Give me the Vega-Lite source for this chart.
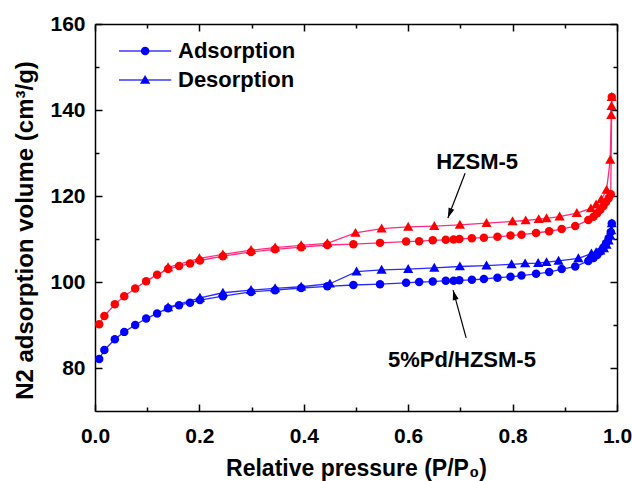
{
  "$schema": "https://vega.github.io/schema/vega-lite/v6.json",
  "width": 522,
  "height": 387,
  "autosize": "none",
  "padding": {"left": 95, "top": 24, "right": 15, "bottom": 70},
  "background": "white",
  "config": {
    "view": {"stroke": null},
    "font": "Liberation Sans",
    "axis": {
      "grid": false,
      "labelFont": "Liberation Sans",
      "labelFontWeight": "bold",
      "labelFontSize": 21,
      "labelColor": "black",
      "titleFont": "Liberation Sans",
      "titleFontWeight": "bold",
      "titleFontSize": 23,
      "titleColor": "black",
      "domainColor": "black",
      "domainWidth": 1.5,
      "tickColor": "black",
      "tickWidth": 1.5,
      "labelFlush": false,
      "labelOverlap": false,
      "labelBound": false
    }
  },
  "datasets": {
    "iso": [
      {"sample": "HZSM-5", "branch": "Adsorption", "p": 0.008, "v": 90.2},
      {"sample": "HZSM-5", "branch": "Adsorption", "p": 0.018, "v": 92.1},
      {"sample": "HZSM-5", "branch": "Adsorption", "p": 0.038, "v": 94.8},
      {"sample": "HZSM-5", "branch": "Adsorption", "p": 0.056, "v": 96.7},
      {"sample": "HZSM-5", "branch": "Adsorption", "p": 0.077, "v": 98.5},
      {"sample": "HZSM-5", "branch": "Adsorption", "p": 0.098, "v": 100.2},
      {"sample": "HZSM-5", "branch": "Adsorption", "p": 0.119, "v": 101.7},
      {"sample": "HZSM-5", "branch": "Adsorption", "p": 0.14, "v": 103.0},
      {"sample": "HZSM-5", "branch": "Adsorption", "p": 0.161, "v": 103.7},
      {"sample": "HZSM-5", "branch": "Adsorption", "p": 0.182, "v": 104.3},
      {"sample": "HZSM-5", "branch": "Adsorption", "p": 0.201, "v": 105.0},
      {"sample": "HZSM-5", "branch": "Adsorption", "p": 0.245, "v": 106.0},
      {"sample": "HZSM-5", "branch": "Adsorption", "p": 0.299, "v": 107.0},
      {"sample": "HZSM-5", "branch": "Adsorption", "p": 0.345, "v": 107.6},
      {"sample": "HZSM-5", "branch": "Adsorption", "p": 0.395, "v": 108.1},
      {"sample": "HZSM-5", "branch": "Adsorption", "p": 0.445, "v": 108.6},
      {"sample": "HZSM-5", "branch": "Adsorption", "p": 0.495, "v": 108.8},
      {"sample": "HZSM-5", "branch": "Adsorption", "p": 0.546, "v": 109.1},
      {"sample": "HZSM-5", "branch": "Adsorption", "p": 0.596, "v": 109.4},
      {"sample": "HZSM-5", "branch": "Adsorption", "p": 0.621, "v": 109.5},
      {"sample": "HZSM-5", "branch": "Adsorption", "p": 0.647, "v": 109.7},
      {"sample": "HZSM-5", "branch": "Adsorption", "p": 0.672, "v": 109.8},
      {"sample": "HZSM-5", "branch": "Adsorption", "p": 0.687, "v": 109.9},
      {"sample": "HZSM-5", "branch": "Adsorption", "p": 0.698, "v": 110.0},
      {"sample": "HZSM-5", "branch": "Adsorption", "p": 0.722, "v": 110.2},
      {"sample": "HZSM-5", "branch": "Adsorption", "p": 0.745, "v": 110.3},
      {"sample": "HZSM-5", "branch": "Adsorption", "p": 0.771, "v": 110.5},
      {"sample": "HZSM-5", "branch": "Adsorption", "p": 0.796, "v": 110.8},
      {"sample": "HZSM-5", "branch": "Adsorption", "p": 0.817, "v": 111.0},
      {"sample": "HZSM-5", "branch": "Adsorption", "p": 0.845, "v": 111.4},
      {"sample": "HZSM-5", "branch": "Adsorption", "p": 0.87, "v": 111.8},
      {"sample": "HZSM-5", "branch": "Adsorption", "p": 0.894, "v": 112.3},
      {"sample": "HZSM-5", "branch": "Adsorption", "p": 0.92, "v": 113.0},
      {"sample": "HZSM-5", "branch": "Adsorption", "p": 0.945, "v": 114.4},
      {"sample": "HZSM-5", "branch": "Adsorption", "p": 0.955, "v": 115.2},
      {"sample": "HZSM-5", "branch": "Adsorption", "p": 0.962, "v": 116.0},
      {"sample": "HZSM-5", "branch": "Adsorption", "p": 0.968, "v": 116.8},
      {"sample": "HZSM-5", "branch": "Adsorption", "p": 0.974, "v": 117.7},
      {"sample": "HZSM-5", "branch": "Adsorption", "p": 0.979, "v": 118.6},
      {"sample": "HZSM-5", "branch": "Adsorption", "p": 0.984, "v": 119.5},
      {"sample": "HZSM-5", "branch": "Adsorption", "p": 0.988, "v": 120.4},
      {"sample": "HZSM-5", "branch": "Adsorption", "p": 0.99, "v": 143.0},
      {"sample": "HZSM-5", "branch": "Desorption", "p": 0.99, "v": 143.0},
      {"sample": "HZSM-5", "branch": "Desorption", "p": 0.9895, "v": 140.9},
      {"sample": "HZSM-5", "branch": "Desorption", "p": 0.989, "v": 138.8},
      {"sample": "HZSM-5", "branch": "Desorption", "p": 0.987, "v": 128.4},
      {"sample": "HZSM-5", "branch": "Desorption", "p": 0.98, "v": 121.4},
      {"sample": "HZSM-5", "branch": "Desorption", "p": 0.97, "v": 119.2},
      {"sample": "HZSM-5", "branch": "Desorption", "p": 0.96, "v": 118.0},
      {"sample": "HZSM-5", "branch": "Desorption", "p": 0.95, "v": 117.1},
      {"sample": "HZSM-5", "branch": "Desorption", "p": 0.923, "v": 116.0},
      {"sample": "HZSM-5", "branch": "Desorption", "p": 0.89, "v": 115.2},
      {"sample": "HZSM-5", "branch": "Desorption", "p": 0.865, "v": 114.8},
      {"sample": "HZSM-5", "branch": "Desorption", "p": 0.85, "v": 114.6},
      {"sample": "HZSM-5", "branch": "Desorption", "p": 0.825, "v": 114.3},
      {"sample": "HZSM-5", "branch": "Desorption", "p": 0.8, "v": 114.1},
      {"sample": "HZSM-5", "branch": "Desorption", "p": 0.75, "v": 113.7},
      {"sample": "HZSM-5", "branch": "Desorption", "p": 0.699, "v": 113.3},
      {"sample": "HZSM-5", "branch": "Desorption", "p": 0.65, "v": 113.0},
      {"sample": "HZSM-5", "branch": "Desorption", "p": 0.6, "v": 112.8},
      {"sample": "HZSM-5", "branch": "Desorption", "p": 0.549, "v": 112.4},
      {"sample": "HZSM-5", "branch": "Desorption", "p": 0.499, "v": 111.4},
      {"sample": "HZSM-5", "branch": "Desorption", "p": 0.445, "v": 109.0},
      {"sample": "HZSM-5", "branch": "Desorption", "p": 0.395, "v": 108.5},
      {"sample": "HZSM-5", "branch": "Desorption", "p": 0.345, "v": 108.0},
      {"sample": "HZSM-5", "branch": "Desorption", "p": 0.299, "v": 107.4},
      {"sample": "HZSM-5", "branch": "Desorption", "p": 0.245, "v": 106.4},
      {"sample": "HZSM-5", "branch": "Desorption", "p": 0.2, "v": 105.5},
      {"sample": "HZSM-5", "branch": "Desorption", "p": 0.14, "v": 103.4},
      {"sample": "5%Pd/HZSM-5", "branch": "Adsorption", "p": 0.008, "v": 82.1},
      {"sample": "5%Pd/HZSM-5", "branch": "Adsorption", "p": 0.018, "v": 84.2},
      {"sample": "5%Pd/HZSM-5", "branch": "Adsorption", "p": 0.038, "v": 86.7},
      {"sample": "5%Pd/HZSM-5", "branch": "Adsorption", "p": 0.056, "v": 88.4},
      {"sample": "5%Pd/HZSM-5", "branch": "Adsorption", "p": 0.077, "v": 90.0},
      {"sample": "5%Pd/HZSM-5", "branch": "Adsorption", "p": 0.098, "v": 91.5},
      {"sample": "5%Pd/HZSM-5", "branch": "Adsorption", "p": 0.119, "v": 92.7},
      {"sample": "5%Pd/HZSM-5", "branch": "Adsorption", "p": 0.14, "v": 93.9},
      {"sample": "5%Pd/HZSM-5", "branch": "Adsorption", "p": 0.161, "v": 94.6},
      {"sample": "5%Pd/HZSM-5", "branch": "Adsorption", "p": 0.182, "v": 95.2},
      {"sample": "5%Pd/HZSM-5", "branch": "Adsorption", "p": 0.201, "v": 95.8},
      {"sample": "5%Pd/HZSM-5", "branch": "Adsorption", "p": 0.245, "v": 96.7},
      {"sample": "5%Pd/HZSM-5", "branch": "Adsorption", "p": 0.299, "v": 97.7},
      {"sample": "5%Pd/HZSM-5", "branch": "Adsorption", "p": 0.345, "v": 98.1},
      {"sample": "5%Pd/HZSM-5", "branch": "Adsorption", "p": 0.395, "v": 98.6},
      {"sample": "5%Pd/HZSM-5", "branch": "Adsorption", "p": 0.445, "v": 99.0},
      {"sample": "5%Pd/HZSM-5", "branch": "Adsorption", "p": 0.495, "v": 99.3},
      {"sample": "5%Pd/HZSM-5", "branch": "Adsorption", "p": 0.546, "v": 99.5},
      {"sample": "5%Pd/HZSM-5", "branch": "Adsorption", "p": 0.596, "v": 99.8},
      {"sample": "5%Pd/HZSM-5", "branch": "Adsorption", "p": 0.621, "v": 100.0},
      {"sample": "5%Pd/HZSM-5", "branch": "Adsorption", "p": 0.647, "v": 100.1},
      {"sample": "5%Pd/HZSM-5", "branch": "Adsorption", "p": 0.672, "v": 100.3},
      {"sample": "5%Pd/HZSM-5", "branch": "Adsorption", "p": 0.687, "v": 100.3},
      {"sample": "5%Pd/HZSM-5", "branch": "Adsorption", "p": 0.698, "v": 100.4},
      {"sample": "5%Pd/HZSM-5", "branch": "Adsorption", "p": 0.722, "v": 100.5},
      {"sample": "5%Pd/HZSM-5", "branch": "Adsorption", "p": 0.745, "v": 100.7},
      {"sample": "5%Pd/HZSM-5", "branch": "Adsorption", "p": 0.771, "v": 101.0},
      {"sample": "5%Pd/HZSM-5", "branch": "Adsorption", "p": 0.796, "v": 101.2},
      {"sample": "5%Pd/HZSM-5", "branch": "Adsorption", "p": 0.817, "v": 101.5},
      {"sample": "5%Pd/HZSM-5", "branch": "Adsorption", "p": 0.845, "v": 101.9},
      {"sample": "5%Pd/HZSM-5", "branch": "Adsorption", "p": 0.87, "v": 102.3},
      {"sample": "5%Pd/HZSM-5", "branch": "Adsorption", "p": 0.894, "v": 103.0},
      {"sample": "5%Pd/HZSM-5", "branch": "Adsorption", "p": 0.92, "v": 103.6},
      {"sample": "5%Pd/HZSM-5", "branch": "Adsorption", "p": 0.945, "v": 104.9},
      {"sample": "5%Pd/HZSM-5", "branch": "Adsorption", "p": 0.955, "v": 105.6},
      {"sample": "5%Pd/HZSM-5", "branch": "Adsorption", "p": 0.962, "v": 106.3},
      {"sample": "5%Pd/HZSM-5", "branch": "Adsorption", "p": 0.968, "v": 107.1},
      {"sample": "5%Pd/HZSM-5", "branch": "Adsorption", "p": 0.974, "v": 108.0},
      {"sample": "5%Pd/HZSM-5", "branch": "Adsorption", "p": 0.979, "v": 109.0},
      {"sample": "5%Pd/HZSM-5", "branch": "Adsorption", "p": 0.984, "v": 110.2},
      {"sample": "5%Pd/HZSM-5", "branch": "Adsorption", "p": 0.988, "v": 111.6},
      {"sample": "5%Pd/HZSM-5", "branch": "Adsorption", "p": 0.99, "v": 113.6},
      {"sample": "5%Pd/HZSM-5", "branch": "Desorption", "p": 0.99, "v": 113.6},
      {"sample": "5%Pd/HZSM-5", "branch": "Desorption", "p": 0.989, "v": 112.0},
      {"sample": "5%Pd/HZSM-5", "branch": "Desorption", "p": 0.987, "v": 110.8},
      {"sample": "5%Pd/HZSM-5", "branch": "Desorption", "p": 0.984, "v": 109.6},
      {"sample": "5%Pd/HZSM-5", "branch": "Desorption", "p": 0.98, "v": 108.6},
      {"sample": "5%Pd/HZSM-5", "branch": "Desorption", "p": 0.975, "v": 107.8},
      {"sample": "5%Pd/HZSM-5", "branch": "Desorption", "p": 0.968, "v": 107.3},
      {"sample": "5%Pd/HZSM-5", "branch": "Desorption", "p": 0.96, "v": 106.9},
      {"sample": "5%Pd/HZSM-5", "branch": "Desorption", "p": 0.951, "v": 106.6},
      {"sample": "5%Pd/HZSM-5", "branch": "Desorption", "p": 0.926, "v": 105.5},
      {"sample": "5%Pd/HZSM-5", "branch": "Desorption", "p": 0.888, "v": 104.9},
      {"sample": "5%Pd/HZSM-5", "branch": "Desorption", "p": 0.865, "v": 104.6},
      {"sample": "5%Pd/HZSM-5", "branch": "Desorption", "p": 0.849, "v": 104.4},
      {"sample": "5%Pd/HZSM-5", "branch": "Desorption", "p": 0.824, "v": 104.3},
      {"sample": "5%Pd/HZSM-5", "branch": "Desorption", "p": 0.798, "v": 104.1},
      {"sample": "5%Pd/HZSM-5", "branch": "Desorption", "p": 0.75, "v": 103.8},
      {"sample": "5%Pd/HZSM-5", "branch": "Desorption", "p": 0.699, "v": 103.6},
      {"sample": "5%Pd/HZSM-5", "branch": "Desorption", "p": 0.65, "v": 103.3},
      {"sample": "5%Pd/HZSM-5", "branch": "Desorption", "p": 0.6, "v": 103.0},
      {"sample": "5%Pd/HZSM-5", "branch": "Desorption", "p": 0.549, "v": 102.8},
      {"sample": "5%Pd/HZSM-5", "branch": "Desorption", "p": 0.501, "v": 102.4},
      {"sample": "5%Pd/HZSM-5", "branch": "Desorption", "p": 0.45, "v": 99.6},
      {"sample": "5%Pd/HZSM-5", "branch": "Desorption", "p": 0.395, "v": 98.9},
      {"sample": "5%Pd/HZSM-5", "branch": "Desorption", "p": 0.345, "v": 98.5},
      {"sample": "5%Pd/HZSM-5", "branch": "Desorption", "p": 0.299, "v": 98.1},
      {"sample": "5%Pd/HZSM-5", "branch": "Desorption", "p": 0.245, "v": 97.5},
      {"sample": "5%Pd/HZSM-5", "branch": "Desorption", "p": 0.201, "v": 96.3},
      {"sample": "5%Pd/HZSM-5", "branch": "Desorption", "p": 0.14, "v": 94.1}
    ],
    "notes": [
      {"label": "HZSM-5", "tx": 0.732, "ty": 127.9, "x": 0.709, "y": 125.3, "x2": 0.676, "y2": 114.9},
      {"label": "5%Pd/HZSM-5", "tx": 0.703, "ty": 81.9, "x": 0.711, "y": 87.0, "x2": 0.686, "y2": 98.1}
    ],
    "legend": [
      {"branch": "Adsorption"},
      {"branch": "Desorption"}
    ]
  },
  "resolve": {
    "scale": {"y": "independent"},
    "axis": {"x": "independent", "y": "independent"}
  },
  "layer": [
    {
      "data": {"name": "iso"},
      "mark": {"type": "line", "strokeWidth": 1.3},
      "encoding": {
        "x": {"field": "p", "type": "quantitative", "scale": {"domain": [0, 1], "nice": false, "zero": false},
          "axis": {"orient": "bottom", "values": [0, 0.2, 0.4, 0.6, 0.8, 1.0], "format": ".1f", "ticks": false, "domain": true, "labelPadding": 14, "title": "Relative pressure (P/P₀)", "titlePadding": 11}},
        "y": {"field": "v", "type": "quantitative", "scale": {"domain": [70, 160], "nice": false, "zero": false},
          "axis": {"orient": "left", "values": [80, 100, 120, 140, 160], "ticks": false, "domain": true, "labelPadding": 10, "title": "N2 adsorption volume (cm³/g)", "titleFontSize": 24, "titlePadding": 12, "titleY": 206}},
        "stroke": {"field": "sample", "type": "nominal", "scale": {"domain": ["HZSM-5", "5%Pd/HZSM-5"], "range": ["#FF2A80", "#2A2AFF"]}, "legend": null},
        "detail": {"field": "branch"}
      }
    },
    {
      "data": {"name": "iso"},
      "mark": {"type": "point", "filled": true, "size": 72, "opacity": 1, "strokeWidth": 0},
      "encoding": {
        "x": {"field": "p", "type": "quantitative", "scale": {"domain": [0, 1], "nice": false, "zero": false},
          "axis": {"orient": "bottom", "values": [0, 0.2, 0.4, 0.6, 0.8, 1.0], "labels": false, "domain": false, "tickSize": -7, "title": null}},
        "y": {"field": "v", "type": "quantitative", "scale": {"domain": [70, 160], "nice": false, "zero": false},
          "axis": {"orient": "left", "values": [80, 100, 120, 140, 160], "labels": false, "domain": false, "tickSize": -7, "title": null}},
        "fill": {"field": "sample", "type": "nominal", "scale": {"domain": ["HZSM-5", "5%Pd/HZSM-5"], "range": ["#FF0000", "#0000FF"]}, "legend": null},
        "shape": {"field": "branch", "type": "nominal", "scale": {"domain": ["Adsorption", "Desorption"], "range": ["circle", "M0,-1.2L1.2,0.9L-1.2,0.9Z"]}, "legend": null}
      }
    },
    {
      "data": {"name": "legend"},
      "mark": {"type": "rule", "color": "#3A3AFF", "strokeWidth": 1.3},
      "encoding": {
        "x": {"datum": 0.046, "type": "quantitative", "scale": {"domain": [0, 1], "nice": false, "zero": false},
          "axis": {"orient": "bottom", "values": [0.1, 0.3, 0.5, 0.7, 0.9], "labels": false, "domain": false, "tickSize": -4, "title": null}},
        "x2": {"datum": 0.146},
        "y": {"field": "branch", "type": "nominal", "scale": {"type": "point", "domain": ["Adsorption", "Desorption"], "range": [27, 56], "padding": 0},
          "axis": null}
      }
    },
    {
      "data": {"name": "iso"},
      "transform": [{"filter": "datum.p < 0"}],
      "mark": {"type": "point", "opacity": 0},
      "encoding": {
        "x": {"field": "p", "type": "quantitative", "scale": {"domain": [0, 1], "nice": false, "zero": false}, "axis": null},
        "y": {"field": "v", "type": "quantitative", "scale": {"domain": [70, 160], "nice": false, "zero": false},
          "axis": {"orient": "left", "values": [90, 110, 130, 150], "labels": false, "domain": false, "tickSize": -4, "title": null}}
      }
    },
    {
      "data": {"name": "legend"},
      "mark": {"type": "point", "filled": true, "size": 72, "opacity": 1, "strokeWidth": 0, "color": "#0000FF"},
      "encoding": {
        "x": {"datum": 0.096, "type": "quantitative", "scale": {"domain": [0, 1], "nice": false, "zero": false}, "axis": null},
        "y": {"field": "branch", "type": "nominal", "scale": {"type": "point", "domain": ["Adsorption", "Desorption"], "range": [27, 56], "padding": 0}, "axis": null},
        "shape": {"field": "branch", "type": "nominal", "legend": null}
      }
    },
    {
      "data": {"name": "legend"},
      "mark": {"type": "text", "font": "Liberation Sans", "fontWeight": "bold", "fontSize": 22, "color": "black", "align": "left", "baseline": "middle"},
      "encoding": {
        "x": {"datum": 0.159, "type": "quantitative", "scale": {"domain": [0, 1], "nice": false, "zero": false}, "axis": null},
        "y": {"field": "branch", "type": "nominal", "scale": {"type": "point", "domain": ["Adsorption", "Desorption"], "range": [27, 56], "padding": 0}, "axis": null},
        "text": {"field": "branch"}
      }
    },
    {
      "data": {"name": "notes"},
      "mark": {"type": "text", "font": "Liberation Sans", "fontWeight": "bold", "fontSize": 22, "color": "black", "align": "center", "baseline": "middle"},
      "encoding": {
        "x": {"field": "tx", "type": "quantitative", "scale": {"domain": [0, 1], "nice": false, "zero": false},
          "axis": {"orient": "top", "values": [0, 0.2, 0.4, 0.6, 0.8, 1.0], "labels": false, "domain": true, "tickSize": -7, "title": null}},
        "y": {"field": "ty", "type": "quantitative", "scale": {"domain": [70, 160], "nice": false, "zero": false},
          "axis": {"orient": "right", "values": [80, 100, 120, 140, 160], "labels": false, "domain": true, "tickSize": -7, "title": null}},
        "text": {"field": "label"}
      }
    },
    {
      "data": {"name": "notes"},
      "mark": {"type": "rule", "color": "black", "strokeWidth": 1.2},
      "encoding": {
        "x": {"field": "x", "type": "quantitative", "scale": {"domain": [0, 1], "nice": false, "zero": false},
          "axis": {"orient": "top", "values": [0.1, 0.3, 0.5, 0.7, 0.9], "labels": false, "domain": false, "tickSize": -4, "title": null}},
        "y": {"field": "y", "type": "quantitative", "scale": {"domain": [70, 160], "nice": false, "zero": false},
          "axis": {"orient": "right", "values": [90, 110, 130, 150], "labels": false, "domain": false, "tickSize": -4, "title": null}},
        "x2": {"field": "x2"},
        "y2": {"field": "y2"}
      }
    },
    {
      "data": {"name": "notes"},
      "transform": [{"filter": "datum.label === 'HZSM-5'"}],
      "mark": {"type": "point", "shape": "M0,0L0.3,1L-0.3,1Z", "size": 400, "filled": true, "color": "black", "opacity": 1, "angle": 200.7},
      "encoding": {
        "x": {"field": "x2", "type": "quantitative", "scale": {"domain": [0, 1], "nice": false, "zero": false}, "axis": null},
        "y": {"field": "y2", "type": "quantitative", "scale": {"domain": [70, 160], "nice": false, "zero": false}, "axis": null}
      }
    },
    {
      "data": {"name": "notes"},
      "transform": [{"filter": "datum.label === '5%Pd/HZSM-5'"}],
      "mark": {"type": "point", "shape": "M0,0L0.3,1L-0.3,1Z", "size": 400, "filled": true, "color": "black", "opacity": 1, "angle": 344.8},
      "encoding": {
        "x": {"field": "x2", "type": "quantitative", "scale": {"domain": [0, 1], "nice": false, "zero": false}, "axis": null},
        "y": {"field": "y2", "type": "quantitative", "scale": {"domain": [70, 160], "nice": false, "zero": false}, "axis": null}
      }
    }
  ]
}
